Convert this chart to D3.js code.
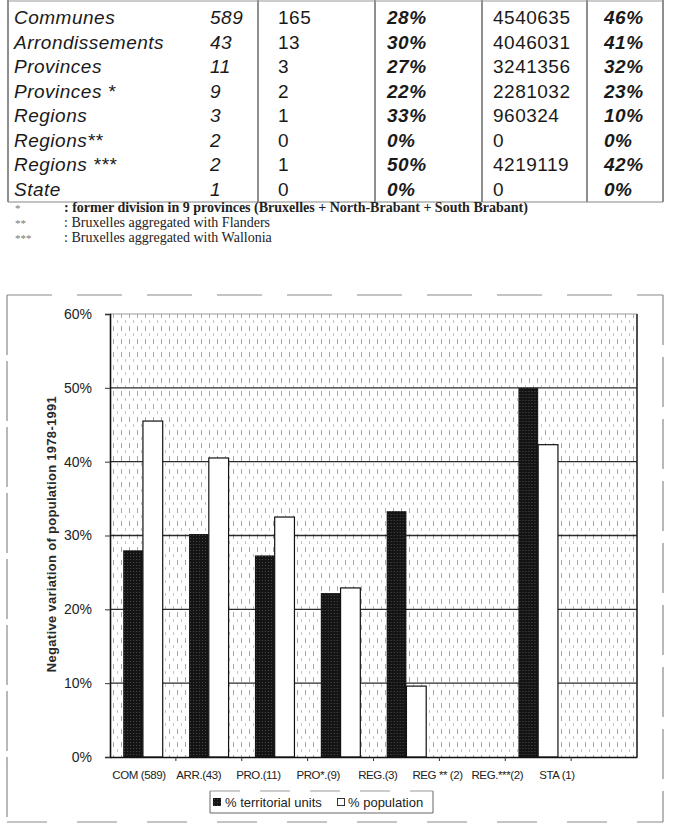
<!DOCTYPE html>
<html>
<head>
  <meta charset="UTF-8">
  <title>Negative variation of population</title>
  <style>
    body { margin: 0; background: #fff; }
    svg { display: block; }
  </style>
</head>
<body>
<svg></svg>
<script src="https://d3js.org/d3.v7.min.js"></script>
<script>
    let width = 677, height = 826;

    // table data
    var rowNames = ["Communes", "Arrondissements", "Provinces", "Provinces *", "Regions", "Regions**", "Regions ***", "State"];
    var unitCounts = [589, 43, 11, 9, 3, 2, 2, 1];
    var declining = [165, 13, 3, 2, 1, 0, 1, 0];
    var pctUnitsText = ["28%", "30%", "27%", "22%", "33%", "0%", "50%", "0%"];
    var populations = ["4540635", "4046031", "3241356", "2281032", "960324", "0", "4219119", "0"];
    var pctPopText = ["46%", "41%", "32%", "23%", "10%", "0%", "42%", "0%"];

    var notes = [
        ["*", ": former division in 9 provinces (Bruxelles + North-Brabant + South Brabant)"],
        ["**", ": Bruxelles aggregated with Flanders"],
        ["***", ": Bruxelles aggregated with Wallonia"]
    ];

    // chart data
    var categories = ["COM", "ARR", "PRO", "PRO*", "REG", "REG**", "REG***", "STA"];
    var catLabels = ["COM (589)", "ARR.(43)", "PRO.(11)", "PRO*.(9)", "REG.(3)", "REG ** (2)", "REG.***(2)", "STA  (1)"];
    var unitShare = [28.0, 30.2, 27.3, 22.2, 33.3, 0, 50.0, 0];
    var popShare = [45.5, 40.5, 32.5, 22.9, 9.6, 0, 42.3, 0];
    var yTicks = [0, 10, 20, 30, 40, 50, 60];

    let svg = d3.select("svg")
        .attr("width", width)
        .attr("height", height);

    // ---------- table ----------
    var rowY = d3.scaleLinear().domain([0, 7]).range([24, 196]);
    var tbl = svg.append("g").attr("font-family", "Arial, 'Liberation Sans', sans-serif")
        .attr("font-size", 19).attr("fill", "#1a1a1a").attr("letter-spacing", 0.5);

    var cols = [
        {x: 14, data: rowNames, style: "italic", weight: "normal"},
        {x: 210, data: unitCounts, style: "italic", weight: "normal"},
        {x: 278, data: declining, style: "normal", weight: "normal"},
        {x: 387, data: pctUnitsText, style: "italic", weight: "bold"},
        {x: 493, data: populations, style: "normal", weight: "normal"},
        {x: 604, data: pctPopText, style: "italic", weight: "bold"}
    ];
    cols.forEach(c => {
        tbl.append("g").selectAll("text")
            .data(c.data)
            .enter().append("text")
            .attr("x", c.x)
            .attr("y", (d, i) => rowY(i))
            .attr("font-style", c.style)
            .attr("font-weight", c.weight)
            .text(d => d);
    });

    // table rules
    var rules = svg.append("g").attr("stroke", "#444").attr("stroke-width", 1.2);
    [8, 258, 375, 482, 587, 663].forEach(x => {
        rules.append("line").attr("x1", x).attr("x2", x).attr("y1", 0).attr("y2", 202);
    });
    rules.append("line").attr("x1", 8).attr("x2", 663).attr("y1", 1).attr("y2", 1).attr("stroke", "#999");
    rules.append("line").attr("x1", 8).attr("x2", 663).attr("y1", 202).attr("y2", 202).attr("stroke", "#888");

    // footnotes
    var fn = svg.append("g").attr("font-family", "'Liberation Serif', 'Times New Roman', serif").attr("font-size", 14);
    notes.forEach((n, i) => {
        fn.append("text").attr("x", 15).attr("y", 212 + i * 15).attr("fill", "#777").attr("font-size", 11).text(n[0]);
        fn.append("text").attr("x", 64).attr("y", 212 + i * 15).attr("fill", "#222")
            .attr("font-weight", i == 0 ? "bold" : "normal").text(n[1]);
    });

    // ---------- chart ----------
    var defs = svg.append("defs");
    var bg = defs.append("pattern").attr("id", "scan").attr("patternUnits", "userSpaceOnUse")
        .attr("width", 8).attr("height", 13);
    bg.append("rect").attr("width", 8).attr("height", 13).attr("fill", "#fff");
    bg.append("rect").attr("x", 1).attr("y", 1).attr("width", 1).attr("height", 5).attr("fill", "#a8a8a8");
    bg.append("rect").attr("x", 5).attr("y", 8).attr("width", 1).attr("height", 3).attr("fill", "#c4c4c4");
    var dark = defs.append("pattern").attr("id", "dark").attr("patternUnits", "userSpaceOnUse")
        .attr("width", 3).attr("height", 3);
    dark.append("rect").attr("width", 3).attr("height", 3).attr("fill", "#141414");
    dark.append("rect").attr("x", 1).attr("y", 1).attr("width", 1).attr("height", 1).attr("fill", "#4a4a4a");

    var x0 = d3.scaleBand().domain(categories).range([110, 637]).paddingInner(0.4).paddingOuter(0.2);
    var x1 = d3.scaleBand().domain(["units", "pop"]).range([0, x0.bandwidth()]);
    var y = d3.scaleLinear().domain([0, 60]).range([757, 314]);
    var labelX = d3.scalePoint().domain(catLabels).range([139, 557]);

    // outer frame (broken scan lines)
    var frame = svg.append("g").attr("fill", "none").attr("stroke", "#8a8a8a").attr("stroke-width", 1.2);
    frame.append("line").attr("x1", 7).attr("x2", 663).attr("y1", 295).attr("y2", 295).attr("stroke-dasharray", "45,25");
    frame.append("line").attr("x1", 7).attr("x2", 663).attr("y1", 822).attr("y2", 822).attr("stroke-dasharray", "40,30");
    frame.append("line").attr("x1", 7).attr("x2", 7).attr("y1", 295).attr("y2", 822).attr("stroke-dasharray", "60,6");
    frame.append("line").attr("x1", 663).attr("x2", 663).attr("y1", 295).attr("y2", 822).attr("stroke-dasharray", "50,12");

    // plot background
    svg.append("rect").attr("x", 110).attr("y", 314).attr("width", 527).attr("height", 443)
        .attr("fill", "url(#scan)");

    // gridlines
    svg.append("g").selectAll("line")
        .data(yTicks.filter(d => d > 0))
        .enter().append("line")
        .attr("x1", 110).attr("x2", 637)
        .attr("y1", d => y(d)).attr("y2", d => y(d))
        .attr("stroke", d => d == 60 ? "#999" : "#2a2a2a")
        .attr("stroke-width", d => d == 60 ? 1 : 1.4);

    // bars
    var groups = svg.append("g").selectAll("g")
        .data(categories)
        .enter().append("g")
        .attr("transform", d => "translate(" + x0(d) + ",0)");
    groups.append("rect")
        .attr("x", x1("units"))
        .attr("width", x1.bandwidth())
        .attr("y", (d, i) => y(unitShare[i]))
        .attr("height", (d, i) => y(0) - y(unitShare[i]))
        .attr("fill", "url(#dark)");
    groups.append("rect")
        .attr("x", x1("pop"))
        .attr("width", x1.bandwidth())
        .attr("y", (d, i) => y(popShare[i]))
        .attr("height", (d, i) => y(0) - y(popShare[i]))
        .attr("fill", "#fff")
        .attr("stroke", d => d == "REG**" || d == "STA" ? "none" : "#111")
        .attr("stroke-width", 1.2);

    // y axis
    var yAxis = svg.append("g")
        .attr("transform", "translate(110,0)")
        .call(d3.axisLeft(y).tickValues(yTicks).tickSize(5).tickFormat(d => d + "%"));
    yAxis.select(".domain").attr("stroke", "#111").attr("stroke-width", 1.6);
    yAxis.selectAll(".tick line").attr("stroke", "#333");
    yAxis.selectAll("text").attr("x", -18)
        .attr("font-family", "Arial, 'Liberation Sans', sans-serif").attr("font-size", 14).attr("fill", "#222");

    // right border of plot
    svg.append("line").attr("x1", 637).attr("x2", 637).attr("y1", 314).attr("y2", 757)
        .attr("stroke", "#222").attr("stroke-width", 1.6);

    // x axis
    var xAxis = svg.append("g")
        .attr("transform", "translate(0,757)")
        .call(d3.axisBottom(x0).tickSize(0).tickFormat(""));
    xAxis.select(".domain").attr("stroke", "#111").attr("stroke-width", 1.6);
    svg.append("g").selectAll("line")
        .data(categories.slice(1))
        .enter().append("line")
        .attr("x1", d => x0(d) - x0.step() * 0.2).attr("x2", d => x0(d) - x0.step() * 0.2)
        .attr("y1", 757).attr("y2", 761)
        .attr("stroke", "#333");

    svg.append("g").selectAll("text")
        .data(catLabels)
        .enter().append("text")
        .attr("x", d => labelX(d))
        .attr("y", 779)
        .attr("text-anchor", "middle")
        .attr("font-family", "Arial, 'Liberation Sans', sans-serif")
        .attr("font-size", 11.5)
        .attr("letter-spacing", -0.4)
        .attr("fill", "#222")
        .text(d => d);

    // y title
    svg.append("text")
        .attr("transform", "translate(56,534) rotate(-90)")
        .attr("text-anchor", "middle")
        .attr("font-family", "Arial, 'Liberation Sans', sans-serif")
        .attr("font-size", 13)
        .attr("font-weight", "bold")
        .attr("letter-spacing", 0.3)
        .attr("fill", "#2a2a2a")
        .text("Negative variation of population 1978-1991");

    // legend
    var lg = svg.append("g");
    lg.append("path").attr("d", "M210,791 V813 H433 V791")
        .attr("fill", "none").attr("stroke", "#666").attr("stroke-width", 1);
    lg.append("line").attr("x1", 210).attr("x2", 433).attr("y1", 791).attr("y2", 791)
        .attr("stroke", "#999").attr("stroke-dasharray", "30,20");
    lg.append("rect").attr("x", 213).attr("y", 798).attr("width", 8).attr("height", 8).attr("fill", "url(#dark)");
    lg.append("text").attr("x", 225).attr("y", 807)
        .attr("font-family", "Arial, 'Liberation Sans', sans-serif").attr("font-size", 13).attr("fill", "#222")
        .text("% territorial units");
    lg.append("rect").attr("x", 337.5).attr("y", 798.5).attr("width", 7).attr("height", 7)
        .attr("fill", "#fff").attr("stroke", "#333");
    lg.append("text").attr("x", 348).attr("y", 807)
        .attr("font-family", "Arial, 'Liberation Sans', sans-serif").attr("font-size", 13).attr("fill", "#222")
        .text("% population");
</script>
</body>
</html>
